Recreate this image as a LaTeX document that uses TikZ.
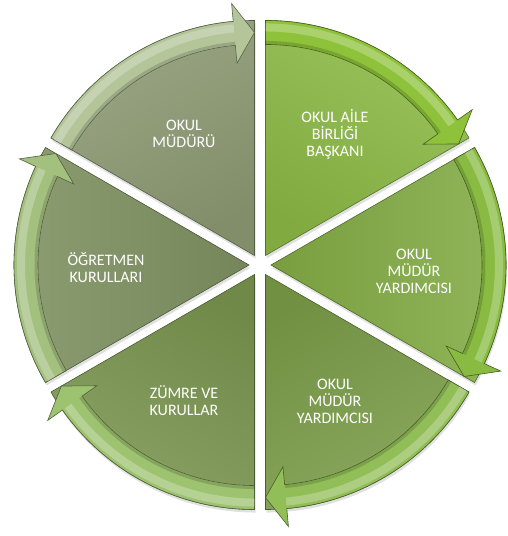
\documentclass[tikz,border=0pt]{standalone}
\usepackage{fontspec}
\setmainfont{Carlito}
\usetikzlibrary{calc}

\definecolor{bodyA}{HTML}{8CBA46}
\definecolor{bandA}{HTML}{8EC23A}
\definecolor{bodyB}{HTML}{83AC45}
\definecolor{bandB}{HTML}{89BB42}
\definecolor{bodyC}{HTML}{7B9D48}
\definecolor{bandC}{HTML}{92BE58}
\definecolor{bodyD}{HTML}{7A954F}
\definecolor{bandD}{HTML}{9DC270}
\definecolor{bodyE}{HTML}{7E9161}
\definecolor{bandE}{HTML}{A4C07F}
\definecolor{bodyF}{HTML}{8D9A73}
\definecolor{bandF}{HTML}{B4C59A}

\tikzset{
  segtext/.style={text=white, align=center, font=\fontsize{16}{17}\selectfont},
  segedge/.style={line width=0.6, draw=#1!60!black},
  segshadow/.style={fill=black, opacity=0.12},
}

% #1 middle angle, #2 body colour, #3 arrow colour, #4 name of the tip point
\newcommand{\piece}[4]{
  \pgfmathsetmacro{\sa}{#1+30}
  \pgfmathsetmacro{\ea}{#1-30}
  \pgfmathsetmacro{\ha}{#1-24.8}
  \coordinate (#4) at ($(mid)+(#1:11)$);
  \fill[segshadow] ($(#4)+(1,-3)$) -- ++(\sa:235) arc[start angle=\sa, end angle=\ea, radius=235] -- cycle;
  \shade[segedge=#2, top color=#2!88!white, bottom color=#2!92!black, shading angle=#1-90]
    (#4) -- ($(#4)+(\sa:235)$) arc[start angle=\sa, end angle=\ea, radius=235] -- cycle;
  \fill[#3, draw=#3!50!black, line width=0.6]
    ($(#4)+(\sa:235)$) arc[start angle=\sa, end angle=\ha, radius=235]
    -- ($(#4)+(\ha:253)$) -- ($(#4)+(\ea:223)$) -- ($(#4)+(\ha:193)$)
    -- ($(#4)+(\ha:211)$) arc[start angle=\ha, end angle=\sa, radius=211] -- cycle;
  \draw[white, opacity=0.25, line width=8]
    ($(#4)+(\sa:228)$) arc[start angle=\sa, end angle=\ha, radius=228];
  \draw[black, opacity=0.15, line width=3]
    ($(#4)+(\sa:213)$) arc[start angle=\sa, end angle=\ha, radius=213];
}

\begin{document}
\begin{tikzpicture}[x=1pt, y=1pt]
  \useasboundingbox (0,0) rectangle (508,536);
  \coordinate (mid) at (260,271);

  \piece{60}{bodyA}{bandA}{aile}
  \piece{0}{bodyB}{bandB}{yard}
  \piece{-60}{bodyC}{bandC}{yardb}
  \piece{240}{bodyD}{bandD}{zumre}
  \piece{180}{bodyE}{bandE}{ogret}
  \piece{120}{bodyF}{bandF}{mudur}

  \node[segtext] (t-mudur) at (184,402) {OKUL\\MÜDÜRÜ};
  \node[segtext] (t-aile) at (335,402) {OKUL AİLE\\BİRLİĞİ\\BAŞKANI};
  \node[segtext] (t-yard) at (414,265) {OKUL\\MÜDÜR\\YARDIMCISI};
  \node[segtext] (t-yardb) at (335,135) {OKUL\\MÜDÜR\\YARDIMCISI};
  \node[segtext] (t-zumre) at (184,135) {ZÜMRE VE\\KURULLAR};
  \node[segtext] (t-ogret) at (106,268) {ÖĞRETMEN\\KURULLARI};
\end{tikzpicture}
\end{document}
